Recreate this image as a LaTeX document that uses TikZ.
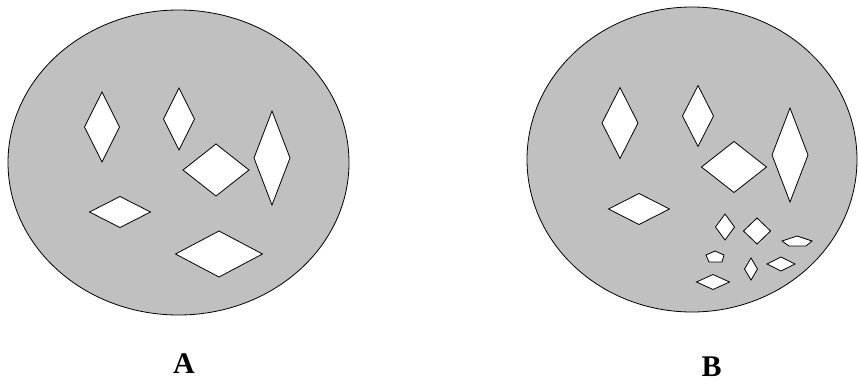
\documentclass[tikz,border=0pt]{standalone}
\usepackage{fontspec}
\setmainfont{Liberation Serif}
\usetikzlibrary{positioning}

\begin{document}
\begin{tikzpicture}[
    x=1pt, y=-1pt,
    disc/.style={draw=black, fill={rgb,255:red,192;green,192;blue,192}, line width=0.8pt},
    hole/.style={draw=black, fill=white, line width=0.8pt, line join=miter},
    lab/.style={inner sep=0pt, font=\bfseries\fontsize{30}{30}\selectfont}
  ]
    \useasboundingbox (0,0) rectangle (859,383);
    % dish A
    \draw[disc] (178.5,162.5) ellipse [x radius=170.5, y radius=152.5];
    \foreach \cx/\cy/\w/\h in {102/127/17.5/35, 179/119/15.5/31, 216/170/33/26,
        272/158/18/47, 120/212/30.5/15.5, 219/254/43.5/23}
      \draw[hole] (\cx-\w,\cy) -- (\cx,\cy-\h) -- (\cx+\w,\cy) -- (\cx,\cy+\h) -- cycle;
    % dish B
    \draw[disc] (692,159.5) ellipse [x radius=165, y radius=152.5];
    \foreach \cx/\cy/\w/\h in {620/123/18/35.5, 698/116/15.5/30.5, 734/167/32.5/25.5,
        790/155/18/47, 639/209/30.5/15.5, 725/227/9.5/13, 757/231/13.5/13,
        751/269/6.5/11, 781/264/14/7, 713/282/16.5/7.5}
      \draw[hole] (\cx-\w,\cy) -- (\cx,\cy-\h) -- (\cx+\w,\cy) -- (\cx,\cy+\h) -- cycle;
    % broken pieces
    \draw[hole] (782,241) -- (797,236) -- (812,241) -- (806,246) -- (789,246) -- cycle;
    \draw[hole] (715,251) -- (724,255) -- (722,262) -- (709,262) -- (706,255) -- cycle;
    % labels
    \node[lab] (labA) at (184,364) {A};
    \node[lab] (labB) at (711.5,367) {B};
\end{tikzpicture}
\end{document}
